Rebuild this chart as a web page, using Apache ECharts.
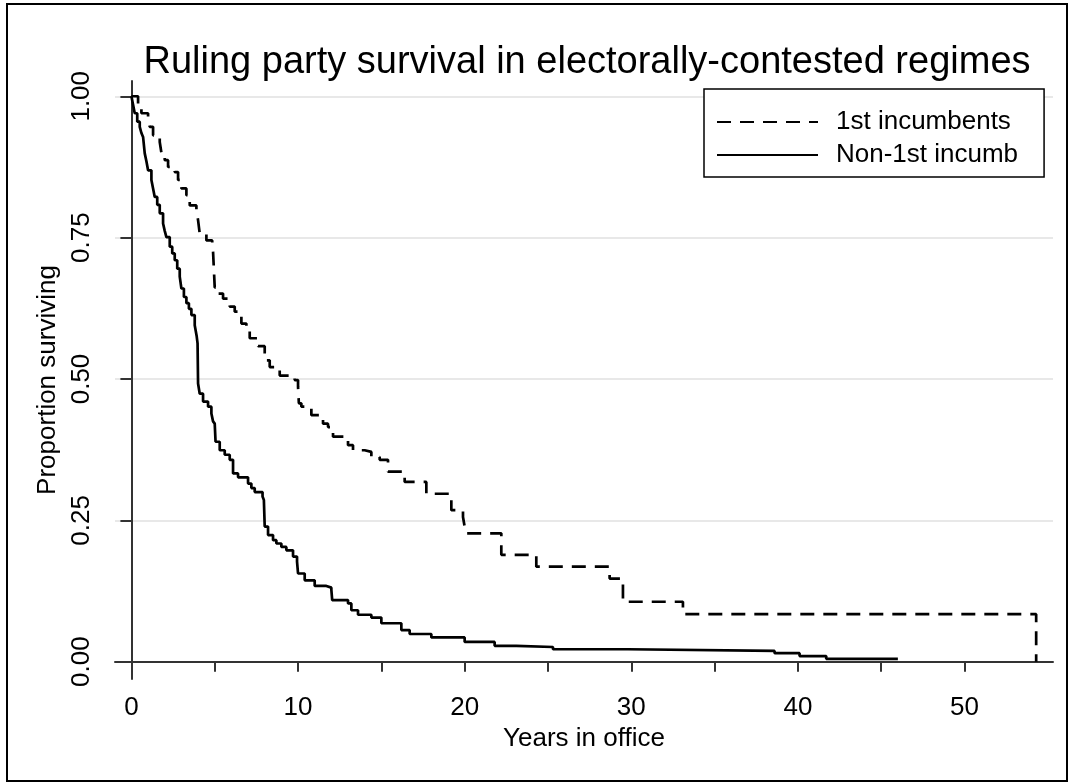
<!DOCTYPE html>
<html>
<head>
<meta charset="utf-8">
<script src="https://cdn.jsdelivr.net/npm/echarts@6/dist/echarts.min.js"></script>
<style>
html,body{margin:0;padding:0;background:#fff;}
#chart{width:1070px;height:784px;}
</style>
</head>
<body>
<div id="chart"></div>
<script>
// ---- data ----
const titleText = 'Ruling party survival in electorally-contested regimes';
const seriesNames = ['1st incumbents', 'Non-1st incumb'];
const xTicks = [0, 5, 10, 15, 20, 25, 30, 35, 40, 45, 50];
const xLabels = [0, 10, 20, 30, 40, 50];
const yTicks = [0, 0.25, 0.5, 0.75, 1];

// Kaplan-Meier estimates: time (years) and survival after that time
const firstTimes = [0, 0.4, 0.6, 1.0, 1.1, 1.3, 1.7, 1.8, 2.0, 2.2, 2.6, 2.8, 3.0, 3.3, 3.5, 3.9, 4.0, 4.1, 4.5, 4.85, 4.9, 5.0, 5.2, 5.5, 5.9, 6.2, 6.4, 6.6, 6.9, 7.1, 7.6, 8.0, 8.3, 8.9, 9.8, 10.0, 10.05, 10.2, 10.8, 11.5, 11.8, 12.1, 13.0, 13.3, 14.0, 14.4, 14.9, 15.4, 16.4, 17.7, 19.2, 19.9, 20.0, 20.1, 22.2, 24.3, 28.7, 29.5, 33.1, 54.3];
const firstSurv = [1.0, 0.985, 0.970, 0.960, 0.946, 0.931, 0.919, 0.900, 0.887, 0.875, 0.866, 0.852, 0.837, 0.825, 0.807, 0.800, 0.781, 0.757, 0.745, 0.738, 0.725, 0.662, 0.651, 0.642, 0.628, 0.619, 0.610, 0.598, 0.585, 0.572, 0.558, 0.533, 0.521, 0.506, 0.498, 0.486, 0.457, 0.451, 0.436, 0.421, 0.415, 0.398, 0.383, 0.374, 0.371, 0.362, 0.357, 0.336, 0.318, 0.297, 0.268, 0.256, 0.239, 0.227, 0.189, 0.168, 0.147, 0.106, 0.084, 0.0];

const otherTimes = [0, 0.1, 0.2, 0.35, 0.5, 0.6, 0.7, 0.8, 0.9, 1.0, 1.2, 1.3, 1.4, 1.55, 1.7, 1.9, 2.0, 2.1, 2.3, 2.45, 2.6, 2.75, 2.9, 3.0, 3.15, 3.3, 3.45, 3.6, 3.8, 3.92, 3.97, 4.0, 4.1, 4.3, 4.6, 4.8, 4.9, 5.0, 5.05, 5.3, 5.6, 5.9, 6.1, 6.4, 7.0, 7.2, 7.4, 7.87, 7.95, 8.0, 8.2, 8.5, 8.7, 9.0, 9.3, 9.7, 9.94, 10.0, 10.4, 11.0, 11.7, 12.0, 12.05, 13.0, 13.2, 13.6, 14.4, 15.0, 16.2, 16.7, 18.0, 20.0, 21.8, 23.1, 25.3, 29.8, 38.6, 40.1, 41.7, 46.0];
const otherSurv = [1.0, 0.985, 0.970, 0.955, 0.946, 0.935, 0.928, 0.899, 0.885, 0.869, 0.852, 0.837, 0.822, 0.808, 0.793, 0.775, 0.762, 0.751, 0.734, 0.722, 0.710, 0.695, 0.681, 0.660, 0.645, 0.634, 0.624, 0.613, 0.595, 0.575, 0.563, 0.492, 0.474, 0.460, 0.451, 0.439, 0.425, 0.421, 0.389, 0.374, 0.366, 0.357, 0.333, 0.326, 0.315, 0.307, 0.300, 0.292, 0.286, 0.239, 0.224, 0.215, 0.209, 0.203, 0.197, 0.186, 0.177, 0.156, 0.144, 0.134, 0.131, 0.127, 0.109, 0.103, 0.091, 0.083, 0.078, 0.068, 0.056, 0.049, 0.043, 0.035, 0.028, 0.026, 0.022, 0.019, 0.015, 0.010, 0.005, 0.005];

// ---- chart ----
const FONT = '"Liberation Sans", Arial, Helvetica, sans-serif';
const pair = (ts, vs) => ts.map((t, i) => [t, vs[i]]);

const chart = echarts.init(document.getElementById('chart'), null, {renderer: 'canvas'});
chart.setOption({
  animation: false,
  backgroundColor: '#fff',
  textStyle: {fontFamily: FONT},
  graphic: [{
    type: 'rect',
    shape: {x: 7, y: 4, width: 1060, height: 777},
    style: {fill: 'none', stroke: '#000', lineWidth: 2},
    silent: true, z: -1
  }],
  title: {
    text: titleText,
    left: 582, top: 39,
    textAlign: 'center',
    textStyle: {fontFamily: FONT, fontSize: 38, fontWeight: 'normal', color: '#000'}
  },
  legend: {
    orient: 'vertical',
    left: 704, top: 89,
    padding: [20, 26, 9, 12],
    itemWidth: 101, itemHeight: 26, itemGap: 7,
    borderColor: '#000', borderWidth: 1.5,
    backgroundColor: '#fff',
    itemStyle: {opacity: 0},
    textStyle: {fontFamily: FONT, fontSize: 26, color: '#000', padding: [0, 0, 0, 13]},
    data: seriesNames
  },
  grid: {left: 115, right: 17, top: 81, bottom: 105, containLabel: false},
  xAxis: {
    type: 'value',
    min: -0.985, max: 55.31,
    name: 'Years in office',
    nameLocation: 'middle', nameGap: 43,
    nameTextStyle: {fontFamily: FONT, fontSize: 26, color: '#000'},
    axisLine: {show: true, lineStyle: {color: '#333', width: 2}},
    axisTick: {show: true, length: 10, customValues: xTicks, lineStyle: {color: '#333', width: 2}},
    axisLabel: {customValues: xLabels, margin: 16, fontFamily: FONT, fontSize: 26, color: '#000'},
    splitLine: {show: false}
  },
  yAxis: {
    type: 'value',
    min: -0.0306, max: 1.027,
    name: 'Proportion surviving',
    nameLocation: 'middle', nameGap: 44, nameRotate: 90,
    nameTextStyle: {fontFamily: FONT, fontSize: 26, color: '#000'},
    axisLine: {show: true, lineStyle: {color: '#333', width: 2}},
    axisTick: {show: true, length: 11, customValues: yTicks, lineStyle: {color: '#333', width: 2}},
    axisLabel: {customValues: yTicks, rotate: 90, margin: 20, fontFamily: FONT, fontSize: 26, color: '#000',
      formatter: v => v.toFixed(2)},
    splitLine: {show: true, lineStyle: {color: '#e8e8e8', width: 2}}
  },
  series: [{
    name: seriesNames[0],
    type: 'line', step: 'end', symbol: 'none', showSymbol: false,
    lineStyle: {color: '#000', width: 2.7, type: [14, 9]},
    itemStyle: {color: '#000'},
    data: pair(firstTimes, firstSurv)
  }, {
    name: seriesNames[1],
    type: 'line', step: 'end', symbol: 'none', showSymbol: false,
    lineStyle: {color: '#000', width: 2.7, type: 'solid'},
    itemStyle: {color: '#000'},
    data: pair(otherTimes, otherSurv)
  }]
});
</script>
</body>
</html>
